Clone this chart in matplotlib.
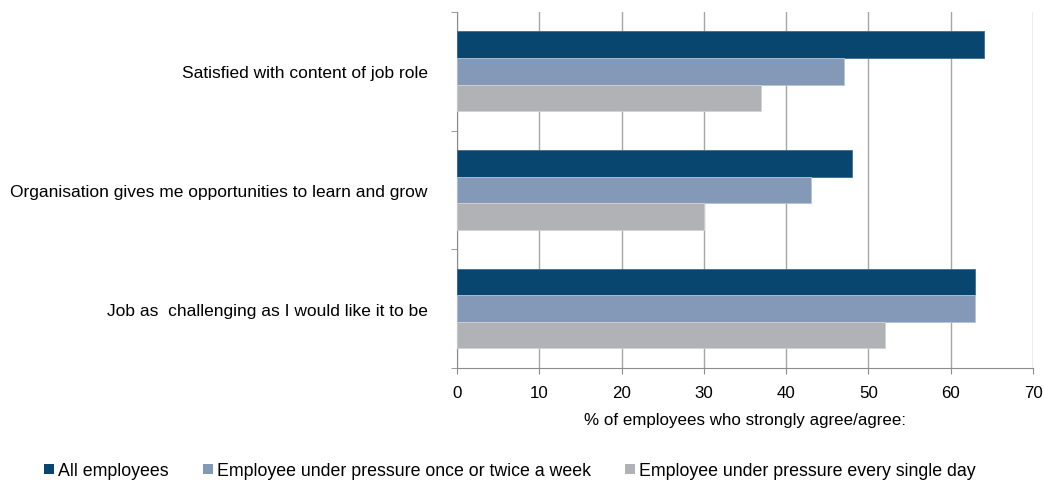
# grouped horizontal bar chart: employee agreement by pressure level

import numpy as np
import matplotlib.pyplot as plt
from matplotlib.patches import Patch

plt.rcParams['font.family'] = ['Liberation Sans', 'DejaVu Sans']

# data (bottom to top)
categories = ["Job as  challenging as I would like it to be",
              "Organisation gives me opportunities to learn and grow",
              "Satisfied with content of job role"]
all_employees = [63, 48, 64]
weekly_pressure = [63, 43, 47]
daily_pressure = [52, 30, 37]
series_names = ["All employees",
                "Employee under pressure once or twice a week",
                "Employee under pressure every single day"]
colours = ["#08466f", "#8399b7", "#b1b2b5"]

fs = 12.5
fig = plt.figure(figsize=(10.44, 4.81), dpi=100)
ax = fig.add_axes([0.4377, 0.233, 0.5518, 0.740])

y = np.arange(len(categories))
h = 0.224
ax.barh(y + h, all_employees, height=h, color=colours[0], edgecolor="#3f6d8f", linewidth=0.6, zorder=3)
ax.barh(y, weekly_pressure, height=h, color=colours[1], edgecolor="#b5c3d5", linewidth=0.6, zorder=3)
ax.barh(y - h, daily_pressure, height=h, color=colours[2], edgecolor="#d0d1d3", linewidth=0.6, zorder=3)

# axes styling like the original spreadsheet chart
ax.set_xlim(0, 70)
ax.set_ylim(-0.5, 2.5)
ax.set_xticks(np.arange(0, 71, 10))
ax.grid(axis="x", color="#a6a6a6", linewidth=1.0, zorder=0)
ax.set_yticks(y)
ax.set_yticklabels(categories, fontsize=fs)
ax.set_yticks([-0.5, 0.5, 1.5, 2.5], minor=True)
ax.tick_params(axis="y", which="major", length=0, pad=21)
ax.tick_params(axis="y", which="minor", length=4, color="#8c8c8c")
ax.tick_params(axis="x", length=4, color="#8c8c8c", labelsize=12.2, pad=8)
for s in ["top", "right"]:
    ax.spines[s].set_visible(False)
for s in ["left", "bottom"]:
    ax.spines[s].set_color("#8c8c8c")
ax.set_xlabel("% of employees who strongly agree/agree:", fontsize=12.2, labelpad=9)

handles = [Patch(facecolor=c, edgecolor="none") for c in colours]
fig.legend(handles, series_names, loc="lower left", bbox_to_anchor=(0.027, -0.032),
           ncol=3, frameon=False, fontsize=12.8, handlelength=0.55, handleheight=0.55,
           handletextpad=0.25, columnspacing=1.9)

fig.savefig("out.png", dpi=100)
